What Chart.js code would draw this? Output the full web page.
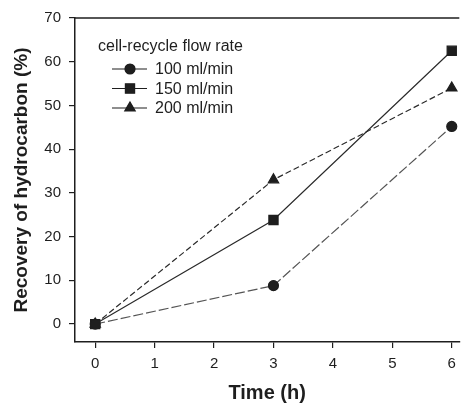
<!DOCTYPE html>
<html>
<head>
<meta charset="utf-8">
<script src="https://cdn.jsdelivr.net/npm/chart.js@4/dist/chart.umd.min.js"></script>
<style>
  html, body { margin: 0; padding: 0; background: #fff; }
  #wrap { width: 467px; height: 405px; }
</style>
</head>
<body>
<div id="wrap"><canvas id="chart"></canvas></div>
<script>
// data
const times = [0, 3, 6]
const flow100 = [0, 8.8, 45.2]
const flow150 = [0, 23.8, 62.5]
const flow200 = [0, 33, 54]
const seriesLabels = ["100 ml/min", "150 ml/min", "200 ml/min"]
const xTicks = [0, 1, 2, 3, 4, 5, 6]
const yTicks = [0, 10, 20, 30, 40, 50, 60, 70]

const FONT = "'Liberation Sans', Arial, sans-serif"
const INK = "#1e1e1e"

const toPoints = (ys) => times.map((t, i) => ({ x: t, y: ys[i] }))

// legend drawn inside the plot, with a line + marker sample like the original
const insideLegend = {
  id: "insideLegend",
  afterDatasetsDraw(chart) {
    const ctx = chart.ctx
    ctx.save()
    ctx.fillStyle = INK
    ctx.font = "16px " + FONT
    ctx.textBaseline = "middle"
    ctx.fillText("cell-recycle flow rate", 98, 47)
    const rows = [69, 88.5, 108]
    chart.data.datasets.forEach((ds, i) => {
      const y = rows[i]
      ctx.strokeStyle = INK
      ctx.lineWidth = 1.2
      ctx.setLineDash([])
      ctx.beginPath()
      ctx.moveTo(112, y)
      ctx.lineTo(147, y)
      ctx.stroke()
      Chart.helpers.drawPoint(ctx, {
        pointStyle: ds.pointStyle, radius: ds.pointRadius, rotation: 0, borderWidth: 1
      }, 130, y)
      ctx.fillStyle = INK
      ctx.fill()
      ctx.fillText(ds.label, 155, y + 1)
    })
    ctx.restore()
  }
}

// top frame line (the original has a box open on the right)
const topLine = {
  id: "topLine",
  beforeDatasetsDraw(chart) {
    const { ctx, chartArea } = chart
    ctx.save()
    ctx.strokeStyle = INK
    ctx.lineWidth = 1.5
    ctx.beginPath()
    ctx.moveTo(chartArea.left, chartArea.top)
    ctx.lineTo(chartArea.right, chartArea.top)
    ctx.stroke()
    ctx.restore()
  }
}

const common = {
  borderColor: "#2b2b2b",
  backgroundColor: INK,
  pointBorderColor: INK,
  pointBackgroundColor: INK,
  borderWidth: 1.2,
  tension: 0
}

new Chart(document.getElementById("chart"), {
  type: "line",
  data: {
    datasets: [
      { ...common, label: seriesLabels[0], data: toPoints(flow100), pointStyle: "circle", pointRadius: 5, borderDash: [10, 3], borderColor: "#555" },
      { ...common, label: seriesLabels[1], data: toPoints(flow150), pointStyle: "rect", pointRadius: 6.5 },
      { ...common, label: seriesLabels[2], data: toPoints(flow200), pointStyle: "triangle", pointRadius: 6, borderDash: [6, 3] }
    ]
  },
  options: {
    responsive: true,
    maintainAspectRatio: false,
    animation: false,
    layout: { padding: { top: 18, right: 0, left: 0, bottom: 0 } },
    plugins: { legend: { display: false }, tooltip: { enabled: false } },
    scales: {
      x: {
        type: "linear",
        min: -0.34,
        max: 6.127,
        afterBuildTicks: (s) => { s.ticks = xTicks.map(v => ({ value: v })) },
        afterFit: (s) => { s.height = 63 },
        grid: { display: true, drawOnChartArea: false, drawTicks: true, tickLength: 6, color: INK, lineWidth: 1.2 },
        border: { display: true, color: INK, width: 1.5 },
        ticks: { color: INK, font: { family: FONT, size: 15 }, padding: 7, maxRotation: 0 },
        title: { display: true, text: "Time (h)", color: INK, font: { family: FONT, size: 20, weight: "bold" }, padding: { top: 2, bottom: 0 } }
      },
      y: {
        min: -4.1,
        max: 70,
        afterBuildTicks: (s) => { s.ticks = yTicks.map(v => ({ value: v })) },
        afterFit: (s) => { s.width = 75 },
        grid: { display: true, drawOnChartArea: false, drawTicks: true, tickLength: 6, color: INK, lineWidth: 1.2 },
        border: { display: true, color: INK, width: 1.5 },
        ticks: { color: INK, font: { family: FONT, size: 15 }, padding: 8 },
        title: { display: true, text: "Recovery of hydrocarbon (%)", color: INK, font: { family: FONT, size: 19, weight: "bold" }, padding: { top: 10, bottom: 4 } }
      }
    }
  },
  plugins: [topLine, insideLegend]
})
</script>
</body>
</html>
